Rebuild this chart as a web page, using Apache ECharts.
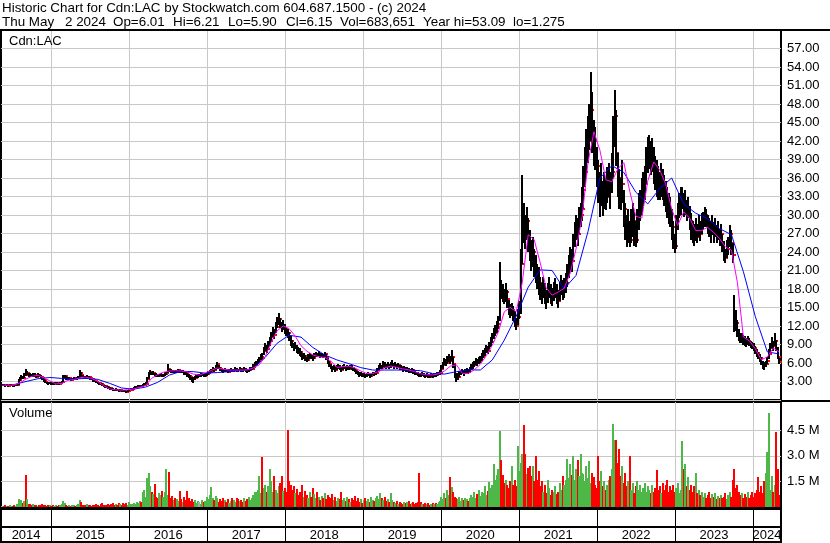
<!DOCTYPE html>
<html><head><meta charset="utf-8">
<script src="https://cdn.jsdelivr.net/npm/echarts/dist/echarts.min.js"></script>
<style>html,body{margin:0;padding:0;background:#fff}#c{width:830px;height:543px}</style>
</head><body><div id="c"></div>
<script>
// ---- data (weekly bars, first bar week ending 2014-05-16) ----
const closes = [
2.45,2.40,2.38,2.42,2.35,2.40,2.44,2.38,2.36,2.40,
2.42,3.20,3.50,3.80,3.60,4.20,4.10,4.40,4.10,4.00,
3.90,4.10,4.00,3.80,4.00,3.90,3.70,3.50,3.20,2.90,
2.80,2.70,2.80,2.70,2.60,2.65,2.80,2.70,2.60,2.75,
2.90,3.60,3.90,3.50,3.40,3.50,3.30,3.40,3.50,3.40,
3.50,3.60,4.40,4.00,3.80,3.70,3.60,3.80,3.70,3.50,
3.40,3.20,3.10,2.90,2.80,2.70,2.60,2.50,2.30,2.20,
2.10,2.00,1.90,1.80,1.70,1.60,1.70,1.60,1.50,1.60,
1.50,1.45,1.40,1.35,1.50,1.60,1.70,1.80,1.90,2.00,
2.10,2.20,2.30,2.20,2.40,2.50,2.60,3.40,4.30,4.50,
4.20,4.40,4.10,4.00,3.90,4.00,4.10,3.90,4.00,4.20,
4.30,5.00,4.80,4.70,4.60,4.70,4.50,4.60,4.80,4.70,
4.50,4.60,4.40,4.30,4.10,3.90,3.70,3.50,3.40,3.60,
3.80,3.90,3.90,4.00,4.10,3.90,4.00,4.20,4.40,4.60,
4.80,5.00,4.90,5.30,5.80,5.20,5.00,4.80,4.70,4.90,
4.80,4.60,4.80,4.90,4.70,4.80,5.00,4.90,4.80,5.10,
4.90,4.80,5.00,4.90,4.70,4.80,5.00,5.10,5.40,5.70,
6.00,6.30,6.60,6.90,6.80,8.00,8.50,8.20,8.90,9.50,
10.20,11.00,10.60,11.80,12.50,13.20,12.40,11.80,12.20,11.50,
11.00,10.80,10.20,9.50,9.00,8.60,8.80,8.30,8.00,7.80,
7.40,7.00,7.20,6.80,6.50,6.90,7.20,7.00,6.80,7.20,
7.40,7.30,7.50,7.20,7.30,7.10,7.40,7.00,6.20,5.80,
5.40,5.00,5.30,4.90,5.20,5.40,5.10,4.90,5.20,5.40,
5.00,5.30,5.10,5.40,5.20,5.00,4.80,4.50,4.30,4.10,
4.20,4.00,4.10,3.90,4.00,4.20,3.90,4.10,4.30,4.20,
4.40,4.80,5.20,5.50,5.30,5.80,5.60,5.40,5.70,5.50,
5.60,5.80,5.50,5.70,5.40,5.60,5.30,5.20,5.00,5.10,
4.90,5.00,4.80,4.70,4.80,4.60,4.40,4.30,4.20,4.10,
4.00,4.20,4.10,3.90,4.00,3.90,3.80,4.00,3.90,4.10,
4.00,4.20,4.30,4.40,5.00,5.60,6.20,6.00,6.50,6.80,
6.40,7.00,5.80,4.20,3.50,3.80,4.20,4.40,4.60,4.30,
4.70,4.80,4.60,5.00,5.40,5.60,5.90,6.20,6.00,6.40,
6.60,7.00,7.40,7.80,8.30,8.00,8.70,9.40,10.00,10.80,
11.20,11.80,12.40,18.50,18.00,17.20,16.50,17.50,16.40,15.00,
14.20,14.60,14.00,13.00,12.00,13.50,14.50,22.00,30.00,28.00,
27.00,29.00,26.00,25.00,23.00,24.00,22.00,21.00,20.00,19.00,
18.00,17.00,18.50,17.00,16.00,17.50,18.00,17.00,16.50,17.50,
18.00,17.00,16.00,17.50,18.50,17.50,18.00,19.00,20.00,21.50,
23.00,22.50,25.00,26.50,28.00,27.00,29.00,30.00,31.00,34.00,
37.00,40.00,42.00,44.00,47.00,45.00,42.00,40.00,38.00,36.00,
33.00,35.00,32.00,34.00,33.00,35.00,36.00,34.00,37.00,42.00,
46.00,40.00,36.00,34.00,33.00,35.00,31.00,29.00,27.00,28.00,
26.00,28.00,29.00,27.00,26.00,28.00,30.00,31.00,33.00,34.00,
35.00,38.00,40.00,41.00,39.00,40.00,38.00,37.00,36.00,35.00,
34.00,36.00,35.00,34.00,33.00,32.00,31.00,30.00,28.00,26.00,
25.00,28.00,30.00,31.00,32.00,33.00,31.00,32.00,30.00,31.00,
29.00,28.00,27.00,26.00,27.50,26.50,28.00,27.00,28.50,29.00,
30.00,29.50,28.50,28.00,27.50,28.50,27.00,28.00,26.50,27.50,
26.00,27.00,25.50,24.00,23.00,24.50,25.00,27.00,25.50,23.50,
13.50,12.50,11.00,10.50,9.80,10.00,9.80,9.50,9.20,9.60,
9.30,9.00,8.80,8.50,8.00,7.60,7.20,6.80,6.20,5.80,
5.60,5.90,6.40,7.50,8.50,9.20,8.80,9.60,8.50,7.00,
6.15];
const highs = [
2.60,2.55,2.50,2.55,2.50,2.55,2.60,2.50,2.50,2.55,
2.60,3.40,3.70,4.00,3.90,4.40,5.00,4.70,4.40,4.30,
4.20,4.40,4.30,4.10,4.30,4.20,4.00,3.80,3.50,3.20,
3.00,2.90,3.00,2.90,2.80,2.85,3.00,2.90,2.80,2.95,
3.10,4.00,4.10,3.90,3.70,3.70,3.60,3.60,3.70,3.60,
3.70,3.90,4.90,4.50,4.10,3.90,3.90,4.00,3.90,3.80,
3.60,3.40,3.30,3.10,3.00,2.90,2.80,2.70,2.50,2.40,
2.30,2.20,2.10,2.00,1.90,1.80,1.90,1.80,1.70,1.80,
1.70,1.60,1.55,1.50,1.65,1.80,1.90,2.00,2.10,2.20,
2.30,2.40,2.50,2.40,2.60,2.70,2.90,3.80,4.60,4.90,
4.60,4.70,4.40,4.30,4.20,4.20,4.30,4.20,4.20,4.50,
4.60,5.80,5.10,5.00,4.90,4.90,4.80,4.90,5.00,4.90,
4.80,4.90,4.70,4.50,4.40,4.20,4.00,3.80,3.70,3.90,
4.10,4.20,4.20,4.30,4.40,4.20,4.30,4.50,4.70,4.90,
5.10,5.30,5.20,5.60,6.20,5.70,5.30,5.10,5.00,5.20,
5.10,4.90,5.10,5.20,5.00,5.10,5.30,5.20,5.10,5.30,
5.20,5.10,5.30,5.20,5.00,5.10,5.30,5.40,5.80,6.10,
6.40,6.70,7.00,7.40,7.60,8.60,9.20,8.90,9.60,10.20,
11.00,11.80,11.50,12.60,13.40,14.10,13.30,12.60,12.90,12.40,
11.80,11.50,11.00,10.30,9.70,9.30,9.40,9.00,8.60,8.40,
8.00,7.60,7.70,7.30,7.00,7.40,7.70,7.50,7.30,7.70,
7.80,7.70,7.90,7.60,7.70,7.50,7.80,7.50,6.80,6.40,
5.90,5.50,5.70,5.40,5.60,5.80,5.60,5.30,5.60,5.80,
5.50,5.60,5.50,5.70,5.60,5.40,5.20,4.90,4.70,4.50,
4.50,4.30,4.40,4.20,4.30,4.50,4.20,4.40,4.60,4.50,
4.70,5.20,5.60,6.00,5.70,6.30,6.10,5.80,6.20,5.90,
6.10,6.50,6.00,6.20,5.80,6.00,5.70,5.60,5.40,5.50,
5.30,5.40,5.20,5.10,5.20,5.00,4.70,4.60,4.50,4.40,
4.30,4.50,4.40,4.20,4.30,4.20,4.10,4.30,4.20,4.40,
4.30,4.50,4.60,4.80,5.60,6.20,6.80,6.60,7.20,7.50,
7.20,8.10,7.00,5.90,4.40,4.30,4.70,4.90,5.10,4.80,
5.10,5.20,5.00,5.40,5.90,6.10,6.40,6.80,6.60,7.00,
7.20,7.60,8.10,8.50,9.00,8.80,9.40,10.20,10.90,11.70,
12.10,12.80,13.60,22.40,19.50,18.80,18.00,19.00,17.80,16.20,
15.50,15.70,15.20,14.40,13.30,14.80,16.00,24.50,36.50,32.00,
30.00,31.30,29.50,27.50,26.00,26.50,24.50,23.50,22.00,21.60,
20.00,19.00,20.00,19.00,17.80,19.00,20.00,18.80,18.20,19.20,
19.80,18.80,17.80,19.20,20.20,19.40,19.80,20.60,22.00,23.50,
24.80,24.50,27.00,28.80,30.00,29.50,31.30,32.00,34.60,38.00,
41.00,44.00,46.00,48.00,53.20,50.00,45.40,44.30,41.00,38.90,
37.00,38.50,35.50,37.00,36.00,37.80,38.50,37.00,40.00,46.00,
50.30,47.00,40.00,37.50,36.00,38.90,34.00,32.00,30.00,31.00,
29.00,31.00,32.00,30.50,29.00,31.00,33.60,34.00,36.00,37.00,
38.00,41.00,42.60,43.00,42.00,42.50,41.00,39.50,38.90,38.00,
37.00,38.50,37.50,36.50,35.50,34.50,33.50,33.00,31.00,29.00,
27.00,30.00,32.00,33.50,34.60,34.60,33.50,34.00,32.50,33.00,
31.50,30.30,29.00,28.50,29.50,28.50,30.00,29.00,30.30,30.50,
31.30,31.00,30.00,29.50,29.00,30.00,28.80,29.50,28.30,29.00,
27.80,28.50,27.00,25.80,24.50,26.00,26.50,28.30,27.50,25.50,
17.00,14.60,13.00,11.50,10.80,10.80,10.50,10.30,10.00,10.40,
10.00,9.60,9.40,9.20,8.70,8.30,7.80,7.40,6.90,6.40,
6.10,6.40,7.00,8.20,9.30,10.20,9.60,10.80,9.80,8.60,
6.80];
const lows = [
2.30,2.25,2.25,2.30,2.20,2.25,2.30,2.25,2.20,2.25,
2.30,2.50,3.10,3.40,3.40,3.60,3.90,4.10,3.80,3.80,
3.70,3.80,3.80,3.60,3.70,3.70,3.50,3.20,2.90,2.70,
2.60,2.50,2.60,2.50,2.40,2.45,2.60,2.50,2.40,2.55,
2.70,2.90,3.50,3.30,3.20,3.30,3.10,3.20,3.30,3.20,
3.30,3.40,3.60,3.80,3.60,3.50,3.40,3.50,3.50,3.30,
3.20,3.00,2.90,2.70,2.60,2.50,2.40,2.30,2.10,2.00,
1.90,1.80,1.70,1.60,1.50,1.45,1.50,1.45,1.35,1.45,
1.35,1.30,1.30,1.28,1.35,1.45,1.55,1.65,1.75,1.85,
1.95,2.05,2.15,2.05,2.20,2.30,2.40,2.60,3.40,4.10,
4.00,4.10,3.90,3.80,3.70,3.80,3.90,3.70,3.80,3.90,
4.10,4.30,4.50,4.40,4.40,4.40,4.30,4.40,4.50,4.40,
4.30,4.40,4.10,4.00,3.80,3.50,3.30,3.00,2.80,3.20,
3.50,3.60,3.70,3.80,3.90,3.70,3.80,3.90,4.10,4.30,
4.50,4.70,4.60,4.80,5.10,5.00,4.70,4.50,4.40,4.60,
4.50,4.40,4.50,4.60,4.50,4.50,4.70,4.60,4.50,4.80,
4.60,4.50,4.70,4.60,4.40,4.50,4.70,4.80,5.00,5.30,
5.60,5.90,6.20,6.50,6.50,7.30,7.90,7.70,8.10,8.80,
9.40,10.20,9.90,10.80,11.60,12.10,11.70,11.00,11.40,10.70,
10.40,10.10,9.50,8.80,8.40,8.00,8.20,7.70,7.50,7.20,
6.90,6.50,6.70,6.30,6.20,6.40,6.70,6.60,6.40,6.70,
7.00,6.90,7.10,6.80,6.90,6.80,7.00,6.50,5.80,5.40,
5.00,4.50,4.90,4.50,4.80,5.00,4.80,4.50,4.80,5.00,
4.70,4.90,4.80,5.00,4.90,4.70,4.50,4.20,4.00,3.80,
3.90,3.70,3.80,3.60,3.70,3.90,3.60,3.80,4.00,3.90,
4.10,4.40,4.80,5.10,5.00,5.30,5.20,5.00,5.30,5.10,
5.20,5.40,5.10,5.30,5.00,5.20,4.90,4.80,4.60,4.70,
4.50,4.60,4.40,4.30,4.40,4.20,4.10,4.00,3.90,3.80,
3.70,3.90,3.80,3.60,3.70,3.60,3.60,3.70,3.60,3.80,
3.70,3.90,4.00,4.10,4.40,5.00,5.60,5.50,5.90,6.20,
5.90,6.30,5.20,3.60,3.00,3.30,3.70,4.00,4.20,3.90,
4.20,4.40,4.20,4.50,4.90,5.10,5.40,5.70,5.50,5.80,
6.00,6.40,6.80,7.20,7.60,7.40,7.90,8.60,9.20,9.90,
10.40,10.90,11.50,12.80,16.40,15.90,15.50,15.90,15.00,13.80,
13.30,13.60,12.80,11.80,11.30,12.20,13.20,14.00,22.00,25.50,
24.50,26.00,24.00,22.50,21.00,21.50,20.00,19.00,18.00,17.00,
16.20,15.50,16.50,15.60,14.80,15.80,16.50,15.60,15.20,16.00,
16.60,15.60,15.00,16.00,17.00,16.20,16.60,17.40,18.30,19.80,
21.00,20.80,23.00,24.80,26.00,25.00,27.00,28.00,29.00,31.00,
34.60,36.50,38.50,40.50,42.00,40.00,38.00,37.30,34.50,32.00,
29.70,31.50,29.80,31.00,30.80,32.00,33.00,31.00,33.50,36.00,
41.00,38.00,33.00,31.00,30.80,32.00,28.00,26.00,24.80,25.50,
24.80,25.50,26.50,25.00,24.80,25.50,27.50,29.00,30.00,31.50,
32.50,35.00,36.80,37.50,36.50,37.00,35.00,34.00,33.00,32.40,
32.40,33.00,32.50,31.50,30.50,29.50,28.50,28.00,26.00,24.50,
23.80,24.50,27.50,29.50,30.00,31.00,29.70,30.00,29.00,29.50,
27.50,26.00,25.40,25.00,25.80,25.40,26.50,25.80,27.00,27.50,
28.00,28.00,27.00,26.50,25.50,26.80,25.50,26.50,25.50,26.00,
25.00,25.20,24.00,22.50,22.20,23.00,23.50,24.80,23.50,22.20,
11.00,11.20,10.20,9.60,9.20,9.30,9.00,8.80,8.60,8.90,
8.70,8.40,8.20,7.90,7.40,7.00,6.60,6.10,5.60,5.10,
4.90,5.30,5.80,6.60,7.60,8.40,8.00,8.70,8.00,6.60,
5.90];
// weekly volume, millions of shares
const volumesM = [
0.08,0.06,0.10,0.05,0.07,0.12,0.06,0.08,0.10,0.07,
0.15,0.45,0.30,0.42,0.25,0.35,1.87,0.45,0.20,0.15,
0.12,0.18,0.10,0.14,0.08,0.12,0.10,0.15,0.09,0.11,
0.07,0.09,0.12,0.06,0.10,0.08,0.13,0.07,0.09,0.11,
0.16,0.35,0.22,0.12,0.08,0.10,0.07,0.09,0.12,0.08,
0.11,0.18,0.40,0.28,0.14,0.10,0.12,0.15,0.09,0.11,
0.08,0.14,0.10,0.19,0.12,0.08,0.15,0.22,0.11,0.09,
0.13,0.20,0.10,0.16,0.24,0.12,0.18,0.14,0.22,0.16,
0.10,0.26,0.18,0.22,0.14,0.30,0.20,0.15,0.25,0.18,
0.28,0.22,0.35,0.30,0.85,1.00,0.60,1.70,2.00,1.20,
0.90,0.75,1.36,0.60,0.55,0.80,0.70,0.95,0.60,0.85,
2.20,0.70,2.06,0.50,0.65,0.40,0.55,0.45,0.35,0.93,
0.45,0.30,0.60,0.40,0.93,0.50,0.35,0.45,0.30,0.40,
0.25,0.35,0.30,0.20,0.40,0.28,0.35,0.60,0.45,0.70,
1.17,0.55,0.40,0.65,0.50,0.30,0.45,0.35,0.55,0.40,
0.30,0.45,0.25,0.35,0.50,0.40,0.30,0.55,0.45,0.35,
0.40,0.30,0.50,0.35,0.45,0.60,0.40,0.55,0.70,0.85,
0.90,1.00,1.80,0.80,2.92,1.10,1.30,0.90,1.20,2.20,
1.50,0.90,1.80,1.00,0.80,1.20,1.40,1.80,0.95,1.10,
0.90,4.48,1.50,1.30,1.00,1.20,0.80,1.05,0.70,0.90,
0.80,1.27,0.60,0.95,0.70,0.55,0.85,0.60,1.10,0.75,
0.50,0.90,0.60,0.40,0.65,0.55,0.80,0.45,0.70,0.60,
0.50,0.75,0.40,0.60,0.35,0.55,0.45,0.87,0.40,0.50,
0.35,0.60,0.45,0.30,0.55,0.40,0.65,0.35,0.50,0.30,
0.45,0.25,0.40,0.55,0.35,0.45,0.30,0.60,0.40,0.35,
0.50,0.65,0.45,0.80,0.55,0.40,0.60,0.35,0.45,0.30,
0.80,0.40,0.30,0.25,0.35,0.20,0.30,0.25,0.18,0.30,
0.22,0.28,0.35,0.20,0.25,0.30,0.18,0.22,0.28,2.00,
0.30,0.20,0.15,0.25,0.18,0.22,0.14,0.20,0.25,0.16,
0.22,0.18,0.30,0.35,0.60,0.45,0.80,0.55,1.00,0.70,
1.75,1.17,0.90,0.60,0.55,0.45,0.60,0.35,0.50,0.40,
0.55,0.45,0.35,0.50,0.70,0.60,0.85,0.55,0.75,1.00,
0.65,0.90,0.80,1.20,0.70,0.95,1.48,1.10,1.30,2.50,
1.60,1.90,2.20,4.43,2.74,1.90,1.40,1.60,1.27,1.10,
1.50,2.40,1.30,1.60,1.20,3.56,2.10,2.60,3.10,4.79,
3.10,1.95,2.30,2.40,1.80,2.40,1.50,3.00,1.60,2.10,
1.20,1.50,0.90,1.30,0.80,1.56,1.10,0.70,1.00,0.85,
1.20,0.75,0.90,1.40,1.00,1.80,1.30,1.60,2.80,1.70,
2.50,1.90,3.00,1.60,2.20,2.73,1.80,3.10,2.00,1.95,
1.50,2.40,1.70,2.70,1.40,2.00,1.75,1.30,1.10,3.00,
1.50,2.10,1.20,1.50,1.00,1.30,1.60,1.80,2.20,4.84,
3.90,3.90,2.60,3.40,1.80,2.40,1.40,2.00,1.20,1.50,
3.00,1.00,1.40,0.80,1.20,1.50,1.00,1.30,0.90,1.10,
1.40,0.90,1.20,1.00,0.80,1.30,0.90,1.10,2.16,1.00,
1.20,0.80,1.40,1.00,1.30,1.56,0.90,1.20,1.00,1.30,
0.90,1.10,1.40,0.80,1.00,3.85,2.20,2.50,1.20,1.75,
1.00,1.30,0.90,1.20,2.00,0.80,1.00,0.70,0.90,0.60,
0.80,0.55,0.70,0.90,0.50,0.75,0.60,0.80,0.45,0.65,
0.55,0.70,0.50,0.60,0.80,0.45,0.70,0.90,0.60,1.60,
2.20,1.10,1.30,0.90,0.70,0.80,0.55,0.75,0.60,0.85,
0.50,0.70,0.90,0.60,0.80,1.00,1.75,0.90,1.20,0.80,
1.50,2.00,3.20,5.47,1.00,1.80,0.90,1.30,4.40,2.20,
0.68];
// short moving average (magenta), one reading every 4 weeks from the first bar
const fastMA = [
2.4,2.4,2.4,2.8,3.4,3.85,4.0,3.6,3.1,2.6,
2.7,3.2,3.3,3.6,3.7,3.5,3.0,2.3,1.8,1.65,
1.6,1.65,1.8,2.05,2.35,3.5,4.1,4.5,4.7,4.75,
4.7,4.55,4.2,4.05,4.4,4.8,5.2,5.0,4.86,4.86,
4.86,4.86,5.2,5.7,7.0,9.3,11.2,12.0,11.6,10.4,
8.8,7.9,7.3,7.0,6.9,6.3,5.3,5.4,5.5,5.2,
4.7,4.3,4.3,4.6,5.2,5.5,5.3,5.05,4.9,4.6,
4.25,4.1,4.05,4.25,4.7,5.5,5.7,4.3,4.3,4.9,
5.8,7.2,8.9,11.0,14.3,15.0,14.3,19.0,26.8,26.0,
22.3,18.2,17.0,17.5,18.1,20.5,24.5,29.5,38.5,43.5,
40.5,35.7,35.4,37.5,38.5,33.8,29.8,29.5,35.5,38.6,
37.3,35.0,31.0,28.3,30.5,29.5,27.5,27.5,28.0,27.2,
26.2,24.8,24.3,19.0,10.2,9.6,8.3,6.5,7.0,8.4,
7.8];
// long moving average (blue), one reading every 8 weeks starting at week 8
const slowMA = [
2.5,3.0,3.45,3.65,3.5,3.4,3.5,3.35,2.7,1.95,
1.75,2.1,2.85,4.05,4.65,4.6,4.35,4.45,4.6,4.75,
5.1,6.9,9.2,10.5,10.2,8.5,7.3,6.5,5.9,5.25,
4.86,4.86,4.86,4.85,4.75,4.3,4.2,4.6,4.9,4.86,
6.5,9.7,13.6,18.3,21.1,21.0,18.0,20.2,27.3,36.0,
38.0,36.9,33.7,31.8,34.3,36.0,31.8,30.3,29.4,27.8,
26.8,20.8,13.5,7.8,7.46];
const years = [2014,2015,2016,2017,2018,2019,2020,2021,2022,2023,2024];
const volTicksM = [1.5, 3.0, 4.5];
const titleLine1 = 'Historic Chart for Cdn:LAC by Stockwatch.com 604.687.1500 - (c) 2024';
const titleLine2Parts = ['Thu May', '2 2024', 'Op=6.01', 'Hi=6.21', 'Lo=5.90', 'Cl=6.15', 'Vol=683,651', 'Year hi=53.09  lo=1.275'];

// ---- layout / build ----
const titleLine2X = [2, 65, 113, 173, 228, 286, 340, 423];
const DAY = 86400000, WEEK = 7 * DAY;
const T0 = Date.UTC(2014, 4, 16);
const X_MIN = Date.UTC(2014, 4, 11), X_MAX = Date.UTC(2024, 4, 11);
const wt = i => T0 + i * WEEK;
const FONT = '13px "Liberation Sans", Arial, sans-serif';
const GREEN = '#4db848', RED = '#ff0000', GREY = '#a8a8a8', GRIDC = '#c8c8c8';

const ohlcData = closes.map((c, i) => [wt(i), lows[i], highs[i], c]);
const volData = volumesM.map((v, i) => [wt(i), v, i === 0 ? 0 : Math.sign(closes[i] - closes[i - 1])]);
const fastData = fastMA.map((v, k) => [wt(4 * k), v]);
const slowData = slowMA.map((v, k) => [wt(8 * (k + 1)), v]);
const yearStarts = years.slice(1).map(y => [Date.UTC(y, 0, 1), 0]);

function vLine(color) {
  return function (params, api) {
    const p = api.coord([api.value(0), 0]);
    const cs = params.coordSys;
    const x = Math.round(p[0]) + 0.5;
    return { type: 'line', shape: { x1: x, y1: cs.y, x2: x, y2: cs.y + cs.height },
      style: { stroke: color, lineWidth: 1 } };
  };
}

const graphics = [
  { type: 'text', left: 2, top: 2, style: { text: titleLine1, font: '13.4px "Liberation Sans", Arial, sans-serif', fill: '#000' } },
  { type: 'rect', shape: { x: 0, y: 29, width: 830, height: 2 }, style: { fill: '#000' }, z: 100 },
  { type: 'rect', shape: { x: 781, y: 400, width: 49, height: 2 }, style: { fill: '#000' }, z: 100 },
  { type: 'rect', shape: { x: 1, y: 526, width: 780, height: 2 }, style: { fill: '#000' }, z: 100 },
  { type: 'text', left: 9, top: 35, style: { text: 'Cdn:LAC', font: FONT, fill: '#000' }, z: 100 },
  { type: 'text', left: 9, top: 407, style: { text: 'Volume', font: FONT, fill: '#000' }, z: 100 }
];
titleLine2Parts.forEach((t, k) => graphics.push(
  { type: 'text', left: titleLine2X[k], top: 16, style: { text: t, font: '13.4px "Liberation Sans", Arial, sans-serif', fill: '#000' } }));

const chart = echarts.init(document.getElementById('c'), null, { renderer: 'canvas' });
const xBase = { type: 'time', min: X_MIN, max: X_MAX, axisLabel: { show: false }, axisTick: { show: false },
  axisLine: { show: false }, splitLine: { show: false } };
chart.setOption({
  animation: false,
  backgroundColor: '#fff',
  grid: [
    { left: 1, right: 49, top: 30, height: 370, show: true, borderColor: '#000', borderWidth: 2, backgroundColor: '#fff' },
    { left: 1, right: 49, top: 402, height: 105, show: true, borderColor: '#000', borderWidth: 2, backgroundColor: '#fff' },
    { left: 1, right: 49, top: 509, height: 33, show: true, borderColor: '#000', borderWidth: 2, backgroundColor: '#fff' }
  ],
  xAxis: [Object.assign({ gridIndex: 0 }, xBase), Object.assign({ gridIndex: 1 }, xBase), Object.assign({ gridIndex: 2 }, xBase)],
  yAxis: [
    { gridIndex: 0, type: 'value', position: 'right', min: 0, max: 60, interval: 3,
      axisLine: { show: false }, axisTick: { show: false },
      splitLine: { show: true, lineStyle: { color: GRIDC, width: 1 } },
      axisLabel: { margin: 6, color: '#000', fontFamily: '"Liberation Sans", Arial, sans-serif', fontSize: 13, align: 'left',
        formatter: v => (v > 0 && v < 60) ? v.toFixed(2) : '' } },
    { gridIndex: 1, type: 'value', position: 'right', min: 0, max: 6.14, interval: 1.5,
      axisLine: { show: false }, axisTick: { show: false }, splitLine: { show: false },
      axisLabel: { margin: 6, color: '#000', fontFamily: '"Liberation Sans", Arial, sans-serif', fontSize: 13, align: 'left',
        formatter: v => (v > 0 && v < 5) ? v.toFixed(1) + ' M' : '' } },
    { gridIndex: 2, type: 'value', min: 0, max: 33, show: false }
  ],
  graphic: graphics,
  series: [
    { type: 'custom', name: 'yearGridPrice', xAxisIndex: 0, yAxisIndex: 0, z: 1, silent: true,
      data: yearStarts, renderItem: vLine(GRIDC) },
    { type: 'custom', name: 'price', xAxisIndex: 0, yAxisIndex: 0, z: 3, silent: true,
      data: ohlcData, encode: { x: 0, y: [1, 2, 3] },
      renderItem: function (params, api) {
        const t = api.value(0);
        const lo = api.coord([t, api.value(1)]);
        const hi = api.coord([t, api.value(2)]);
        const cl = api.coord([t, api.value(3)]);
        const x = Math.round(lo[0]);
        const y0 = Math.round(hi[1]);
        return { type: 'group', children: [
          { type: 'rect', shape: { x: x - 1, y: y0, width: 2, height: Math.max(2, Math.round(lo[1]) - y0) }, style: { fill: '#000' } },
          { type: 'rect', shape: { x: x + 1, y: Math.round(cl[1]) - 1, width: 2, height: 2 }, style: { fill: RED } }
        ] };
      } },
    { type: 'line', name: 'slowMA', xAxisIndex: 0, yAxisIndex: 0, z: 4, data: slowData, showSymbol: false, silent: true,
      lineStyle: { color: '#0000ff', width: 1 } },
    { type: 'line', name: 'fastMA', xAxisIndex: 0, yAxisIndex: 0, z: 5, data: fastData, showSymbol: false, silent: true,
      lineStyle: { color: '#ff00ff', width: 1 } },
    { type: 'custom', name: 'yearGridVol', xAxisIndex: 1, yAxisIndex: 1, z: 1, silent: true,
      data: yearStarts, renderItem: vLine(GRIDC) },
    { type: 'custom', name: 'volGrid', xAxisIndex: 1, yAxisIndex: 1, z: 1, silent: true,
      data: volTicksM.map(v => [X_MIN, v]),
      renderItem: function (params, api) {
        const p = api.coord([api.value(0), api.value(1)]);
        const cs = params.coordSys;
        const y = Math.round(p[1]) + 0.5;
        return { type: 'line', shape: { x1: cs.x, y1: y, x2: cs.x + cs.width, y2: y }, style: { stroke: GRIDC, lineWidth: 1 } };
      } },
    { type: 'custom', name: 'volume', xAxisIndex: 1, yAxisIndex: 1, z: 3, silent: true,
      data: volData, encode: { x: 0, y: 1 },
      renderItem: function (params, api) {
        const t = api.value(0);
        const top = api.coord([t, api.value(1)]);
        const cs = params.coordSys;
        const d = api.value(2);
        const x = Math.round(top[0]);
        const y = Math.round(top[1]);
        return { type: 'rect', shape: { x: x - 1, y: y, width: 2, height: cs.y + cs.height - y },
          style: { fill: d > 0 ? GREEN : (d < 0 ? RED : GREY) } };
      } },
    { type: 'custom', name: 'yearSep', xAxisIndex: 2, yAxisIndex: 2, z: 3, silent: true,
      data: yearStarts, renderItem: vLine('#000') },
    { type: 'custom', name: 'yearLabels', xAxisIndex: 2, yAxisIndex: 2, z: 4, silent: true,
      data: years.map(y => [Date.UTC(y, 0, 1), 0, y]),
      renderItem: function (params, api) {
        const y = api.value(2);
        const cs = params.coordSys;
        const a = Math.max(cs.x, api.coord([Date.UTC(y, 0, 1), 0])[0]);
        const b = Math.min(cs.x + cs.width, api.coord([Date.UTC(y + 1, 0, 1), 0])[0]);
        return { type: 'text', x: (a + b) / 2, y: cs.y + cs.height - 7,
          style: { text: String(y), font: FONT, fill: '#000', textAlign: 'center', textVerticalAlign: 'middle',
            align: 'center', verticalAlign: 'middle' } };
      } }
  ]
});
</script>
</body></html>
